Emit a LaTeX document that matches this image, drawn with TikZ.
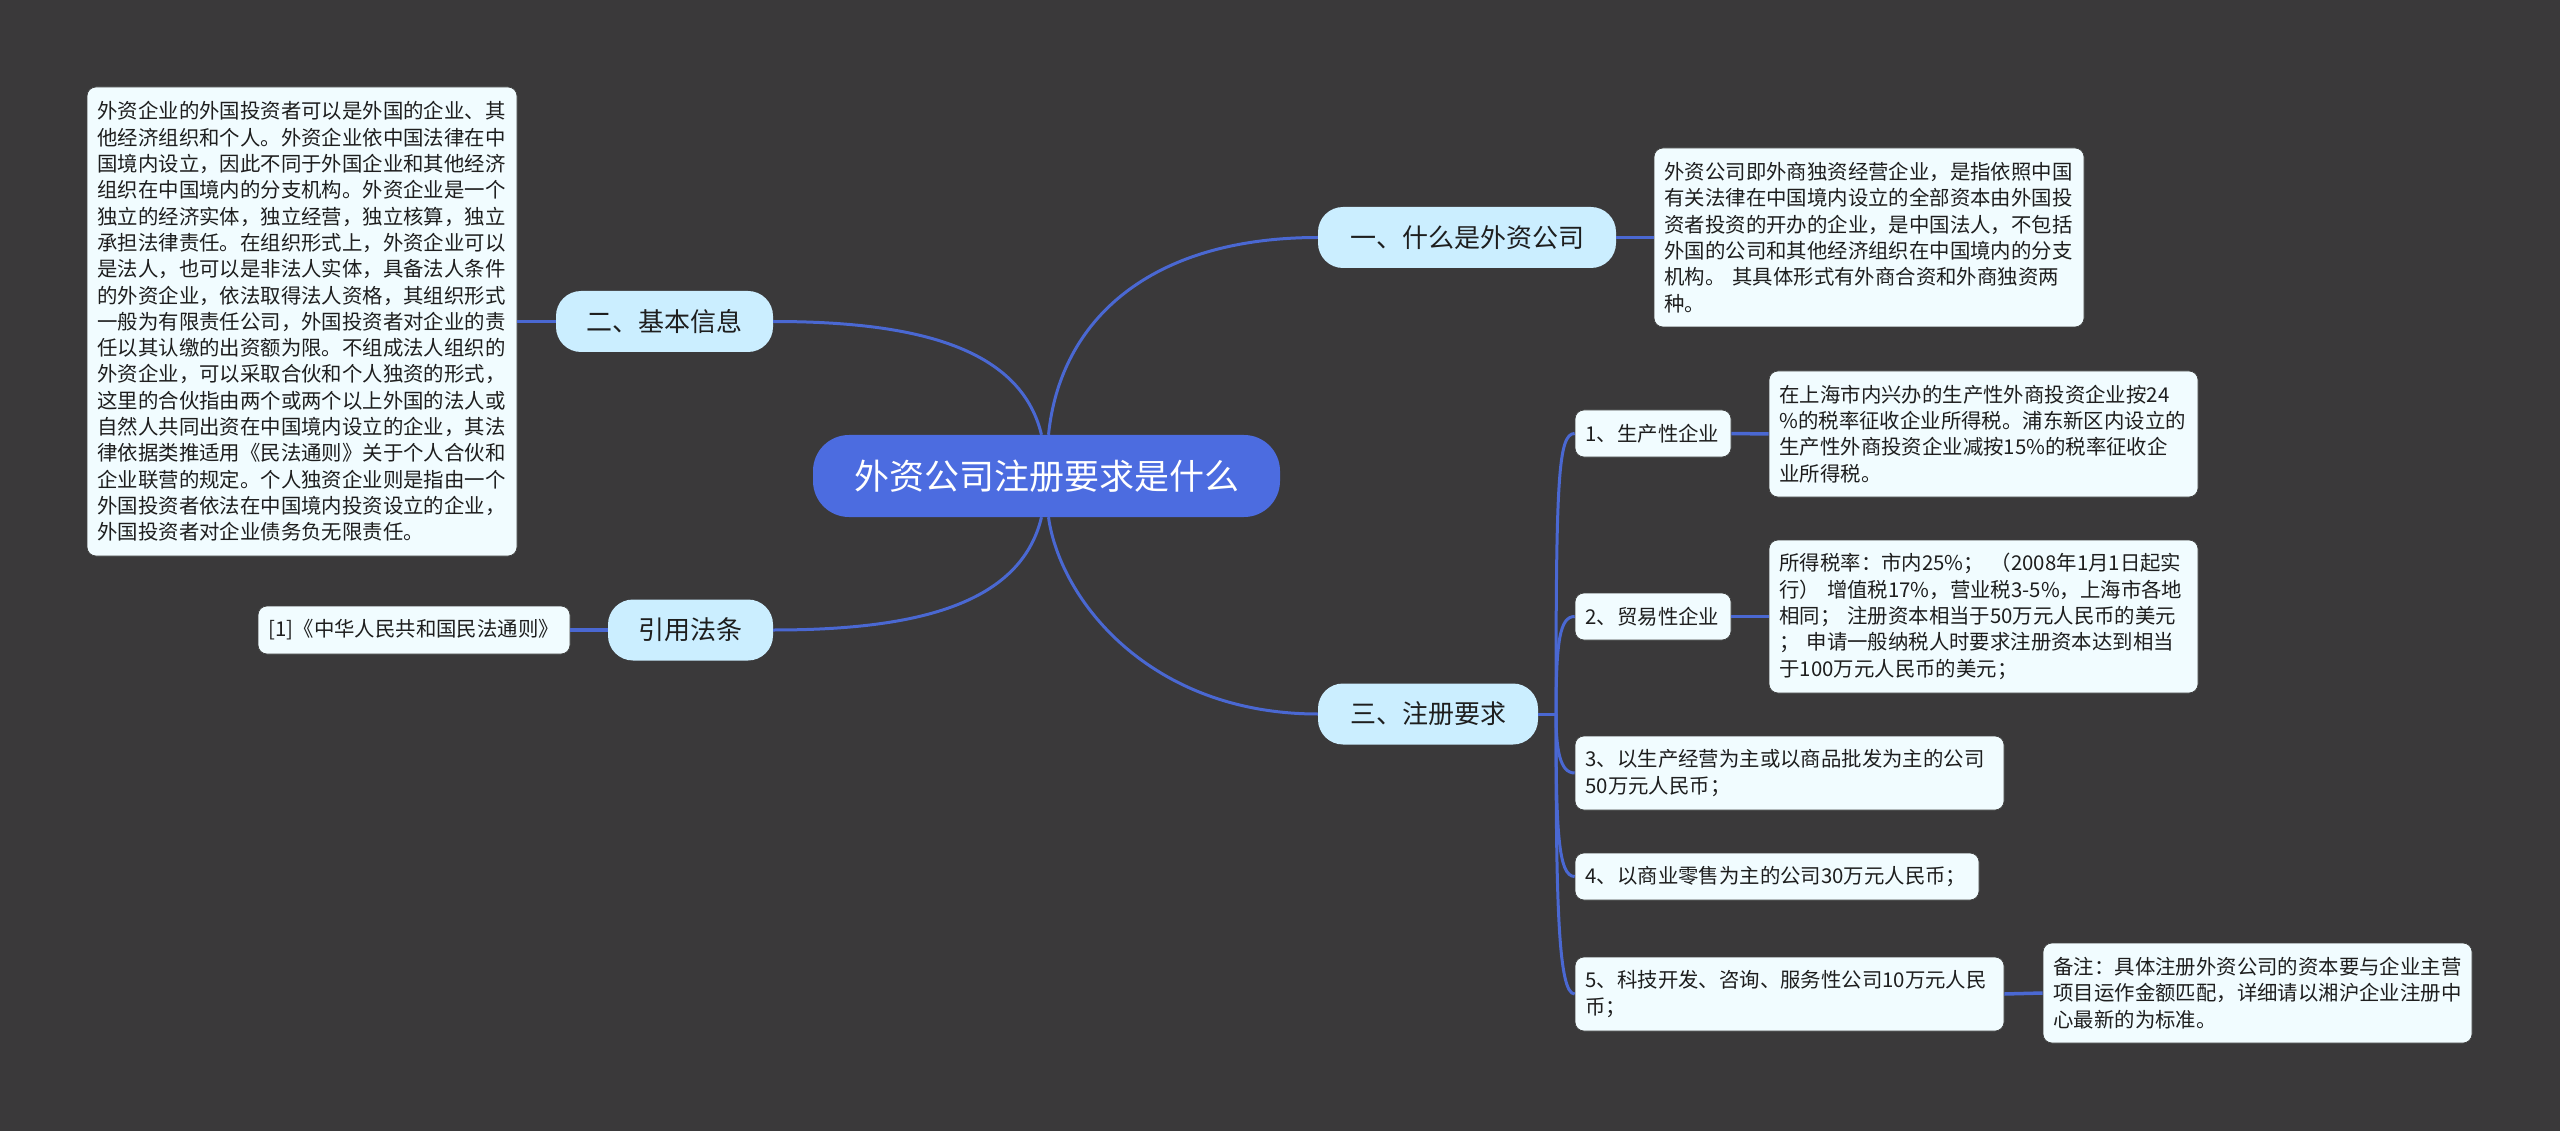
\documentclass[tikz,border=0pt]{standalone}
\usepackage{fontspec}
\setmainfont{Noto Sans CJK SC}
\definecolor{canvas}{HTML}{3A393A}
\definecolor{rootblue}{HTML}{4C6CE0}
\definecolor{linkblue}{HTML}{4A68D2}
\definecolor{pillblue}{HTML}{CBEEFF}
\definecolor{leafwhite}{HTML}{F1FCFF}
\definecolor{inkgrey}{HTML}{1E1E1E}

\begin{document}
\begin{tikzpicture}[
    x=1pt, y=-1pt,
    topic/.style={rectangle, rounded corners=36pt, fill=rootblue, text=white, minimum width=467pt, minimum height=82pt, inner sep=0pt, text centered, font=\fontsize{35}{40}\selectfont},
    branch/.style={rectangle, rounded corners=25pt, fill=pillblue, text=inkgrey, minimum height=61pt, inner sep=0pt, text centered, font=\fontsize{26}{30}\selectfont},
    leaf/.style={rectangle, rounded corners=9pt, draw=black!75, line width=0.7pt, fill=leafwhite, text=inkgrey, inner xsep=10.5pt, inner ysep=0pt, align=left, font=\fontsize{20.4}{26.3}\selectfont, execute at end node={\endgraf\vskip-3pt}},
    link/.style={draw=linkblue, line width=3pt},
    sublink/.style={draw=linkblue, line width=3.5pt}
]

\fill[canvas] (0,0) rectangle (2560,1131);
\useasboundingbox (0,0) rectangle (2560,1131);

% Root
\node[topic] (root) at (1046.5,476) {外资公司注册要求是什么};

% Left side
\node[branch, minimum width=217pt] (basic) at (664.5,321.5) {二、基本信息};
\node[branch, minimum width=165pt] (cite) at (690.5,630) {引用法条};
\node[leaf, text width=409pt, minimum height=469pt] (basictext) at (302,321.5) {外资企业的外国投资者可以是外国的企业、其\\他经济组织和个人。外资企业依中国法律在中\\国境内设立，因此不同于外国企业和其他经济\\组织在中国境内的分支机构。外资企业是一个\\独立的经济实体，独立经营，独立核算，独立\\承担法律责任。在组织形式上，外资企业可以\\是法人，也可以是非法人实体，具备法人条件\\的外资企业，依法取得法人资格，其组织形式\\一般为有限责任公司，外国投资者对企业的责\\任以其认缴的出资额为限。不组成法人组织的\\外资企业，可以采取合伙和个人独资的形式，\\这里的合伙指由两个或两个以上外国的法人或\\自然人共同出资在中国境内设立的企业，其法\\律依据类推适用《民法通则》关于个人合伙和\\企业联营的规定。个人独资企业则是指由一个\\外国投资者依法在中国境内投资设立的企业，\\外国投资者对企业债务负无限责任。};
\node[leaf, text width=291pt, minimum height=48pt] (citetext) at (414,630) {[1]《中华人民共和国民法通则》};

% Right side, upper
\node[branch, minimum width=298pt] (what) at (1467,237.5) {一、什么是外资公司};
\node[leaf, text width=409pt, minimum height=179pt] (whattext) at (1869,237.5) {外资公司即外商独资经营企业，是指依照中国\\有关法律在中国境内设立的全部资本由外国投\\资者投资的开办的企业，是中国法人，不包括\\外国的公司和其他经济组织在中国境内的分支\\机构。 其具体形式有外商合资和外商独资两\\种。};

% Right side, lower
\node[branch, minimum width=220pt] (need) at (1428,714) {三、注册要求};
\coordinate (spine) at (1556,714);
\node[leaf, text width=135pt, minimum height=47pt] (needa) at (1653,433.5) {1、生产性企业};
\node[leaf, text width=135pt, minimum height=47pt] (needb) at (1653,616.5) {2、贸易性企业};
\node[leaf, text width=408pt, minimum height=74pt] (needc) at (1789.5,773) {3、以生产经营为主或以商品批发为主的公司\\50万元人民币；};
\node[leaf, text width=383pt, minimum height=47pt] (needd) at (1777,876.5) {4、以商业零售为主的公司30万元人民币；};
\node[leaf, text width=408pt, minimum height=74pt] (neede) at (1789.5,994) {5、科技开发、咨询、服务性公司10万元人民\\币；};

\node[leaf, text width=408pt, minimum height=126pt] (needatext) at (1983.5,434) {在上海市内兴办的生产性外商投资企业按24\\\%的税率征收企业所得税。浦东新区内设立的\\生产性外商投资企业减按15\%的税率征收企\\业所得税。};
\node[leaf, text width=408pt, minimum height=153pt] (needbtext) at (1983.5,616.5) {所得税率：市内25\%；\ （2008年1月1日起实\\行） 增值税17\%，营业税3-5\%，上海市各地\\相同； 注册资本相当于50万元人民币的美元\\； 申请一般纳税人时要求注册资本达到相当\\于100万元人民币的美元；};
\node[leaf, text width=408pt, minimum height=100pt] (neetetext) at (2257.5,993) {备注：具体注册外资公司的资本要与企业主营\\项目运作金额匹配，详细请以湘沪企业注册中\\心最新的为标准。};

% Links from the root
\draw[link] (basic.east) .. controls (910,321.5) and (1020,345) .. ([xshift=-5pt]root.north);
\draw[link] (cite.east) .. controls (910,630) and (1020,607) .. ([xshift=-5pt]root.south);
\draw[link] (what.west) .. controls (1150,237.5) and (1060,320) .. ([xshift=2pt]root.north);
\draw[link] (need.west) .. controls (1150,714) and (1060,600) .. ([xshift=2pt]root.south);

% Links to the texts
\draw[sublink] (basic.west) -- (basictext.east);
\draw[sublink] (cite.west) -- (citetext.east);
\draw[sublink] (what.east) -- (whattext.west);
\draw[sublink] (needa.east) -- (needatext.west);
\draw[sublink] (needb.east) -- (needbtext.west);
\draw[sublink] (neede.east) -- (neetetext.west);

% Spine
\draw[link] (need.east) -- (spine);
\draw[link] (spine) .. controls (1556,480) and (1558,433.5) .. (needa.west);
\draw[link] (spine) .. controls (1556,640) and (1560,616.5) .. (needb.west);
\draw[link] (spine) .. controls (1556,750) and (1560,773) .. (needc.west);
\draw[link] (spine) .. controls (1556,830) and (1558,876.5) .. (needd.west);
\draw[link] (spine) .. controls (1556,900) and (1558,994) .. (neede.west);

\end{tikzpicture}
\end{document}
